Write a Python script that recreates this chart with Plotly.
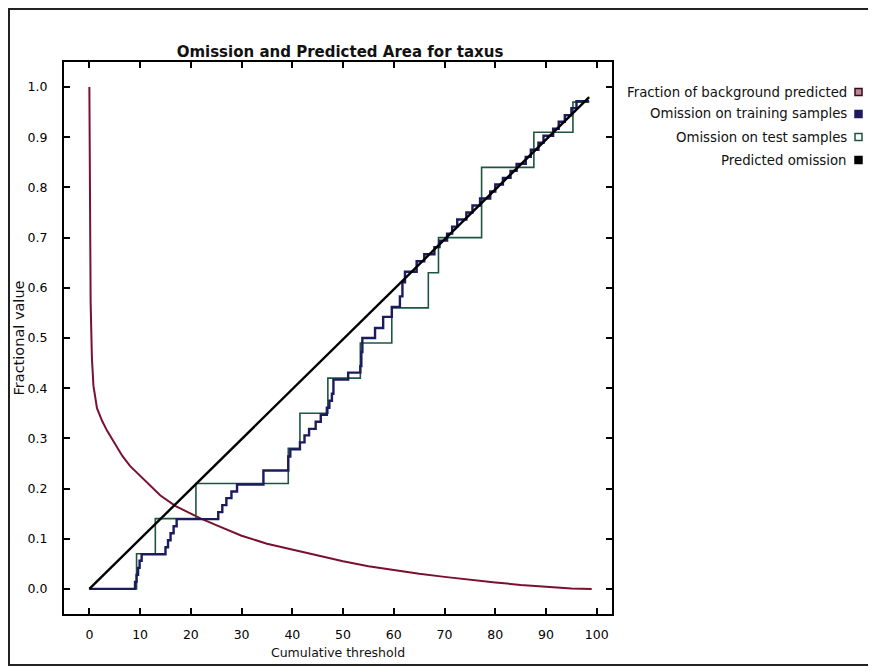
import plotly.graph_objects as go

# ---------------- data ----------------
bg_x = [0, 0.05, 0.12, 0.25, 0.5, 0.8, 1.5, 2.5, 3.5, 5, 6.5, 8, 10, 12, 14, 17, 20, 22,
        25, 27, 30, 35, 40, 45, 50, 55, 60, 65, 70, 75, 80, 85, 90, 95, 99]
bg_y = [1.0, 0.85, 0.70, 0.57, 0.46, 0.405, 0.36, 0.335, 0.315, 0.29, 0.265, 0.245, 0.225,
        0.205, 0.186, 0.165, 0.15, 0.14, 0.127, 0.118, 0.106, 0.09, 0.078, 0.066, 0.055,
        0.045, 0.037, 0.030, 0.024, 0.018, 0.013, 0.008, 0.004, 0.001, 0.0]

train_x = [0, 9.0, 9.3, 9.6, 9.9, 10.3, 15.0, 15.5, 16.0, 16.6, 17.2, 25.4, 26.2, 27.0,
           28.0, 29.1, 34.3, 39.2, 39.6, 41.5, 42.4, 43.3, 44.6, 45.6, 46.8, 47.3, 47.8,
           48.1, 51.0, 53.4, 53.6, 53.8, 56.3, 57.9, 59.6, 61.2, 61.7, 62.2, 64.5, 66.0,
           68.0, 69.0, 70.5, 71.5, 72.5, 74.3, 75.5, 77.0, 79.0, 80.0, 81.5, 83.0, 84.2,
           86.0, 87.0, 88.5, 89.5, 91.4, 92.5, 93.7, 95.0, 96.0, 98.5]
train_y = [0, 0.014, 0.028, 0.042, 0.056, 0.069, 0.083, 0.097, 0.111, 0.125, 0.139, 0.153,
           0.167, 0.181, 0.194, 0.208, 0.236, 0.264, 0.278, 0.292, 0.306, 0.319, 0.333,
           0.347, 0.361, 0.375, 0.389, 0.417, 0.431, 0.444, 0.472, 0.5, 0.52, 0.542,
           0.562, 0.583, 0.611, 0.632, 0.653, 0.667, 0.681, 0.694, 0.708, 0.722, 0.736,
           0.75, 0.764, 0.778, 0.792, 0.806, 0.819, 0.833, 0.847, 0.861, 0.875, 0.889,
           0.903, 0.917, 0.931, 0.944, 0.958, 0.972, 0.972]

test_x = [0, 9.3, 13.0, 21.0, 39.2, 41.5, 47.0, 53.4, 59.6, 66.8, 68.8, 77.3, 85.2, 87.6, 95.3, 98.5]
test_y = [0, 0.07, 0.14, 0.21, 0.28, 0.35, 0.42, 0.49, 0.56, 0.63, 0.70, 0.84, 0.84, 0.91, 0.97, 0.97]

pred_x = [0, 98.5]
pred_y = [0, 0.98]

legend_labels = ["Fraction of background predicted", "Omission on training samples",
                 "Omission on test samples", "Predicted omission"]

x_ticks = list(range(0, 101, 10))
y_ticks = [round(0.1 * i, 1) for i in range(11)]

# ---------------- styling ----------------
FONT = "DejaVu Sans, Arial, sans-serif"
C_BG = "#7a1030"
C_TRAIN = "#1b1b5e"
C_TEST = "#1e5540"
C_PRED = "#000000"

fig = go.Figure()
fig.add_trace(go.Scatter(x=bg_x, y=bg_y, mode="lines", line=dict(color=C_BG, width=2),
                         name=legend_labels[0], showlegend=False))
fig.add_trace(go.Scatter(x=test_x, y=test_y, mode="lines", line=dict(color=C_TEST, width=1.6, shape="hv"),
                         name=legend_labels[2], showlegend=False))
fig.add_trace(go.Scatter(x=train_x, y=train_y, mode="lines", line=dict(color=C_TRAIN, width=2.4, shape="hv"),
                         name=legend_labels[1], showlegend=False))
fig.add_trace(go.Scatter(x=pred_x, y=pred_y, mode="lines", line=dict(color=C_PRED, width=2.4),
                         name=legend_labels[3], showlegend=False))

axis_common = dict(showgrid=False, zeroline=False, showline=True, linecolor="black", linewidth=2,
                   ticks="inside", ticklen=6, tickwidth=1.5, tickcolor="black", mirror="ticks",
                   automargin=False,
                   tickfont=dict(family=FONT, size=12.5, color="#000"))

fig.update_xaxes(range=[-5, 103], tickvals=x_ticks, ticktext=[str(v) for v in x_ticks],
                 title=dict(text="Cumulative threshold", font=dict(family=FONT, size=12.5, color="#111"),
                            standoff=7),
                 ticklabelstandoff=8, **axis_common)
fig.update_yaxes(range=[-0.05, 1.05], tickvals=y_ticks, ticktext=[f"{v:.1f}" for v in y_ticks],
                 title=dict(text="Fractional value", font=dict(family=FONT, size=14.5, color="#111"),
                            standoff=0),
                 ticklabelstandoff=12, **axis_common)

# page is rendered with an 8px body margin, so the figure starts at (8, 8)
OFF = 8
FIG_W, FIG_H = 876 - OFF, 672 - OFF
# plot area in page pixels
W0, W1, H0, H1 = 64, 612, 62, 614

def px_x(px):
    return (px - W0) / (W1 - W0)

def px_y(py):
    return (H1 - py) / (H1 - H0)

leg_py = [92, 114, 137, 160]
leg_fill = ["#b58a96", C_TRAIN, "#ffffff", "#000000"]
leg_line = ["#3a0a18", C_TRAIN, C_TEST, "#000000"]
shapes = []
annotations = []
for lab, py, fc, lc in zip(legend_labels, leg_py, leg_fill, leg_line):
    annotations.append(dict(x=px_x(849), y=px_y(py), xref="paper", yref="paper", text=lab,
                            showarrow=False, xanchor="right", yanchor="middle",
                            font=dict(family=FONT, size=13.3, color="#111")))
    shapes.append(dict(type="rect", xref="paper", yref="paper",
                       x0=px_x(855), x1=px_x(862), y0=px_y(py + 3.5), y1=px_y(py - 3.5),
                       fillcolor=fc, line=dict(color=lc, width=1.5)))

# outer frame of the picture
shapes.append(dict(type="rect", xref="paper", yref="paper", x0=px_x(9), x1=px_x(871),
                   y0=px_y(665), y1=px_y(9), line=dict(color="#222", width=2),
                   fillcolor="rgba(0,0,0,0)", layer="below"))

fig.update_layout(
    width=FIG_W, height=FIG_H,
    margin=dict(l=W0 - OFF, r=876 - W1, t=H0 - OFF, b=672 - H1),
    paper_bgcolor="white", plot_bgcolor="white",
    title=dict(text="<b>Omission and Predicted Area for taxus</b>", x=px_x(340), xref="paper",
               xanchor="center", y=1 - (52 - OFF) / FIG_H, yanchor="middle",
               font=dict(family=FONT, size=15, color="#111")),
    shapes=shapes, annotations=annotations, showlegend=False,
)

fig.write_html("out.html")
